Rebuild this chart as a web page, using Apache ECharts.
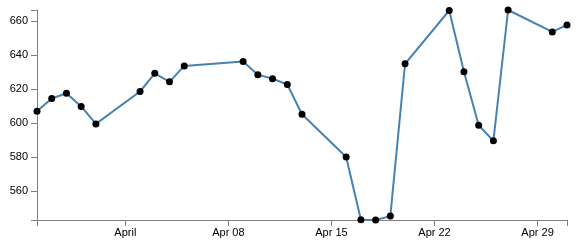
<!DOCTYPE html>
<html><head><meta charset="utf-8">
<script src="https://cdn.jsdelivr.net/npm/echarts@6/dist/echarts.min.js"></script>
<style>html,body{margin:0;padding:0;background:#fff}#c{width:579px;height:250px}</style>
</head><body><div id="c"></div>
<script>
const dates = ['2012-03-26','2012-03-27','2012-03-28','2012-03-29','2012-03-30','2012-04-02','2012-04-03','2012-04-04','2012-04-05','2012-04-09','2012-04-10','2012-04-11','2012-04-12','2012-04-13','2012-04-16','2012-04-17','2012-04-18','2012-04-19','2012-04-20','2012-04-23','2012-04-24','2012-04-25','2012-04-26','2012-04-27','2012-04-30','2012-05-01'];
const values = [606.98,614.48,617.62,609.86,599.55,618.63,629.32,624.31,633.68,636.23,628.44,626.20,622.77,605.23,580.13,543.1,543.0,545.3,634.9,666.3,630.2,598.8,589.6,666.6,653.7,657.8];
const xDomain = ['2012-03-26','2012-05-01'];
const xTickDates = ['2012-04-01','2012-04-08','2012-04-15','2012-04-22','2012-04-29'];
const xTickLabels = ['April','Apr 08','Apr 15','Apr 22','Apr 29'];
const yTicks = [560,580,600,620,640,660];

function t(s){const p=s.split('-').map(Number);return Date.UTC(p[0],p[1]-1,p[2]);}
const xMin=t(xDomain[0]), xMax=t(xDomain[1]);
const yMin=Math.min(...values), yMax=Math.max(...values);
const xTicks=xTickDates.map(t);
const axisColor='#808080';
const chart=echarts.init(document.getElementById('c'),null,{renderer:'canvas'});
chart.setOption({
  animation:false,
  grid:{left:37,right:12,top:10,bottom:30},
  xAxis:{type:'value',min:xMin,max:xMax,
    axisLine:{show:true,lineStyle:{color:axisColor,width:1}},
    axisTick:{show:true,length:6,lineStyle:{color:axisColor},customValues:[xMin].concat(xTicks,[xMax])},
    axisLabel:{customValues:xTicks,color:'#000',fontSize:11,fontFamily:'Liberation Sans, Arial, sans-serif',margin:7,
      formatter:function(v){const i=xTicks.indexOf(v);return i>=0?xTickLabels[i]:'';}},
    splitLine:{show:false}},
  yAxis:{type:'value',min:yMin,max:yMax,
    axisLine:{show:true,lineStyle:{color:axisColor,width:1}},
    axisTick:{show:true,length:6,lineStyle:{color:axisColor},customValues:[yMin].concat(yTicks,[yMax])},
    axisLabel:{customValues:yTicks,color:'#000',fontSize:11,fontFamily:'Liberation Sans, Arial, sans-serif',margin:9},
    splitLine:{show:false}},
  series:[{type:'line',data:dates.map((d,i)=>[t(d),values[i]]),
    lineStyle:{color:'#4682b4',width:2},
    symbol:'circle',symbolSize:7,showAllSymbol:true,
    itemStyle:{color:'#000',borderWidth:0},z:2}]
});
</script></body></html>
